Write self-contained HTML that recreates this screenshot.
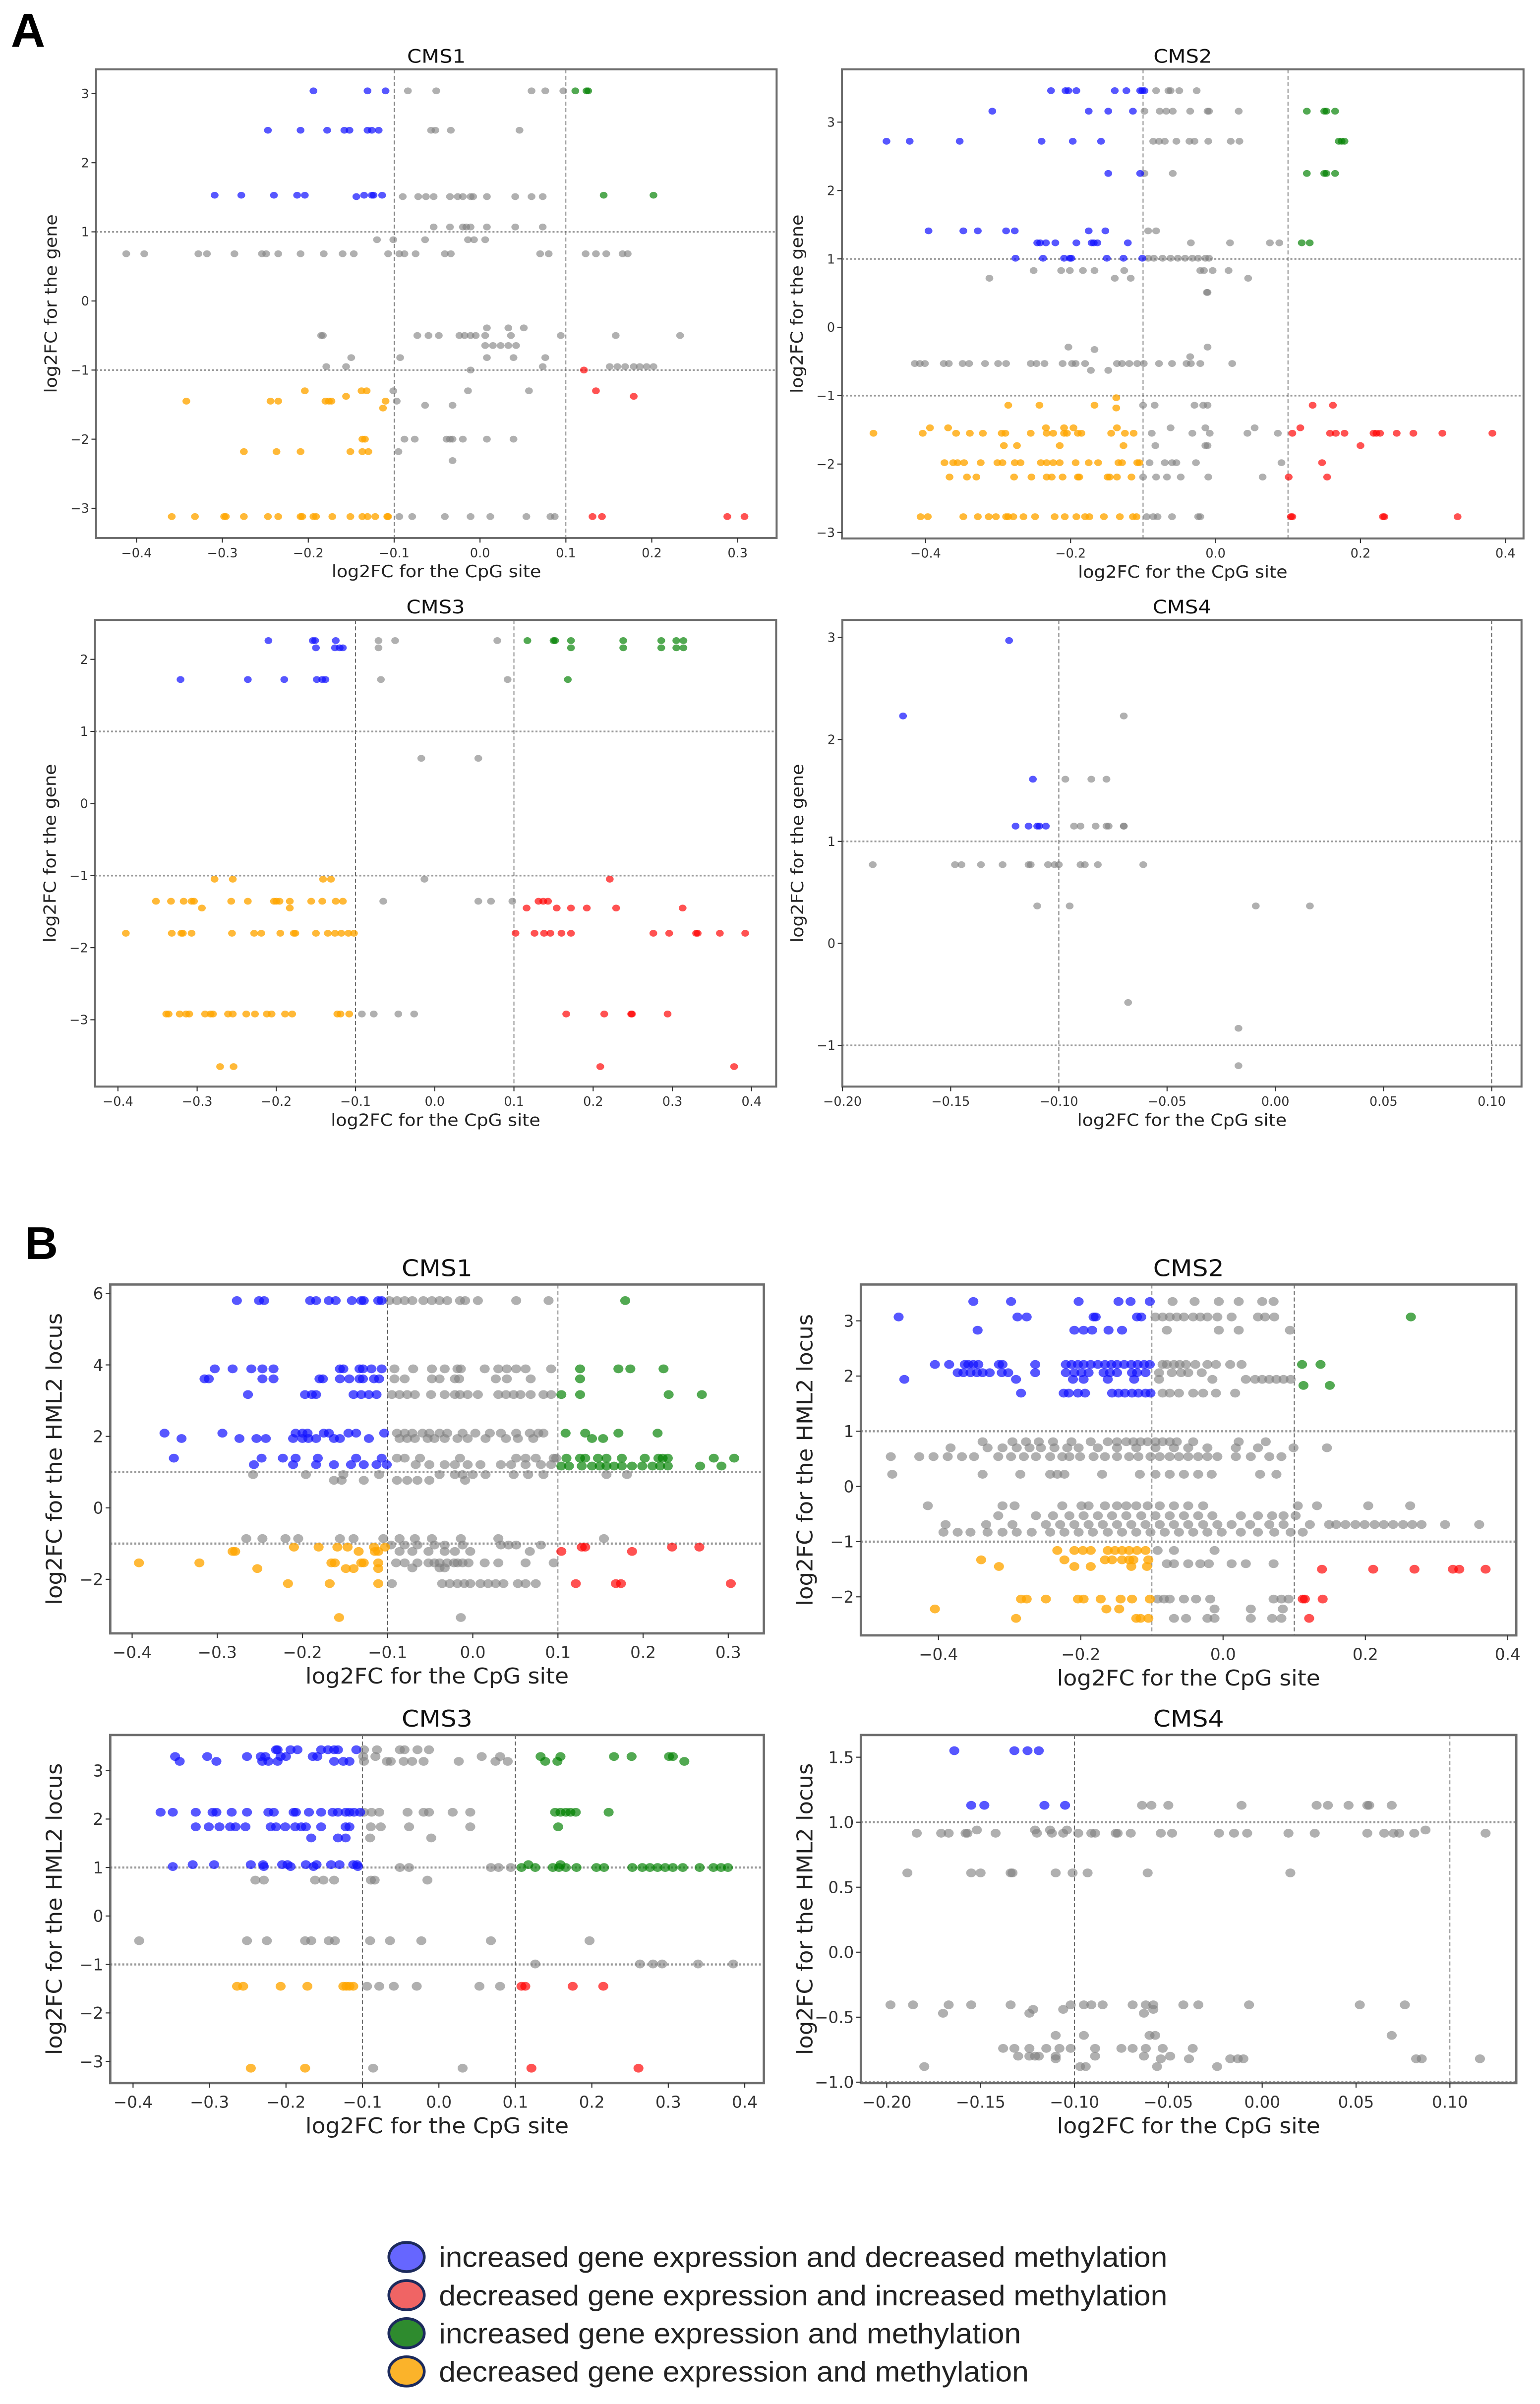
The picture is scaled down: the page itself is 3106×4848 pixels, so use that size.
<!DOCTYPE html>
<html><head><meta charset="utf-8"><title>CpG methylation vs expression scatter panels</title>
<style>
html,body{margin:0;padding:0;background:#fff;}
#fig{display:block;width:3106px;height:4848px;}
</style></head>
<body>
<svg id="fig" xmlns="http://www.w3.org/2000/svg" width="3106" height="4848" viewBox="0 0 1000 1560.85">
<rect x="0" y="0" width="1000" height="1560.85" fill="#ffffff"/>
<text x="7" y="30.5" font-family="Liberation Sans, sans-serif" font-weight="bold" font-size="31" fill="#000">A</text>
<text x="16" y="817.5" font-family="Liberation Sans, sans-serif" font-weight="bold" font-size="30" fill="#000">B</text>
<g>
  <ellipse cx="264" cy="1465.4" rx="11.5" ry="9.5" fill="#6666ff" stroke="#1c2a5c" stroke-width="1.8"/>
  <text x="285" y="1471.9" font-family="Liberation Sans, sans-serif" font-size="18.5" fill="#222" textLength="473" lengthAdjust="spacingAndGlyphs">increased gene expression and decreased methylation</text>
  <ellipse cx="264" cy="1490.2" rx="11.5" ry="9.5" fill="#f06464" stroke="#1c2a5c" stroke-width="1.8"/>
  <text x="285" y="1496.7" font-family="Liberation Sans, sans-serif" font-size="18.5" fill="#222" textLength="473" lengthAdjust="spacingAndGlyphs">decreased gene expression and increased methylation</text>
  <ellipse cx="264" cy="1514.9" rx="11.5" ry="9.5" fill="#2e8b2e" stroke="#1c2a5c" stroke-width="1.8"/>
  <text x="285" y="1521.4" font-family="Liberation Sans, sans-serif" font-size="18.5" fill="#222" textLength="378" lengthAdjust="spacingAndGlyphs">increased gene expression and methylation</text>
  <ellipse cx="264" cy="1539.7" rx="11.5" ry="9.5" fill="#fbb32a" stroke="#1c2a5c" stroke-width="1.8"/>
  <text x="285" y="1546.2" font-family="Liberation Sans, sans-serif" font-size="18.5" fill="#222" textLength="383" lengthAdjust="spacingAndGlyphs">decreased gene expression and methylation</text>
</g>
</svg>
<script>
// ---------------- tick arrays ----------------
const ticksX_a1 = [-0.4,-0.3,-0.2,-0.1,0.0,0.1,0.2,0.3];
const labelsX_a1 = ["−0.4","−0.3","−0.2","−0.1","0.0","0.1","0.2","0.3"];
const ticksX_even = [-0.4,-0.2,0.0,0.2,0.4];
const labelsX_even = ["−0.4","−0.2","0.0","0.2","0.4"];
const ticksX_a3 = [-0.4,-0.3,-0.2,-0.1,0.0,0.1,0.2,0.3,0.4];
const labelsX_a3 = ["−0.4","−0.3","−0.2","−0.1","0.0","0.1","0.2","0.3","0.4"];
const ticksX_small = [-0.20,-0.15,-0.10,-0.05,0.00,0.05,0.10];
const labelsX_small = ["−0.20","−0.15","−0.10","−0.05","0.00","0.05","0.10"];
const ticksY_a1 = [-3,-2,-1,0,1,2,3];
const labelsY_a1 = ["−3","−2","−1","0","1","2","3"];
const ticksY_a3 = [-3,-2,-1,0,1,2];
const labelsY_a3 = ["−3","−2","−1","0","1","2"];
const ticksY_a4 = [-1,0,1,2,3];
const labelsY_a4 = ["−1","0","1","2","3"];
const ticksY_b1 = [-2,0,2,4,6];
const labelsY_b1 = ["−2","0","2","4","6"];
const ticksY_b2 = [-2,-1,0,1,2,3];
const labelsY_b2 = ["−2","−1","0","1","2","3"];
const ticksY_b4 = [-1.0,-0.5,0.0,0.5,1.0,1.5];
const labelsY_b4 = ["−1.0","−0.5","0.0","0.5","1.0","1.5"];

// ---------------- A / CMS1 ----------------
const a1_gray_y = [3.04,2.47,1.51,1.07,0.886,0.683,-0.39,-0.50,-0.645,-0.82,-0.95,-1.0,-1.30,-1.45,-1.51,-2.0,-2.18,-2.31,-3.12];
const a1_gray_x = [
[-0.084,-0.051,0.060,0.076,0.097],
[-0.057,-0.052,-0.034,0.046],
[-0.090,-0.072,-0.063,-0.054,-0.035,-0.026,-0.020,-0.011,-0.008,0.008,0.041,0.060,0.073],
[-0.054,-0.035,-0.020,-0.016,-0.011,0.008,0.041,0.073],
[-0.120,-0.101,-0.064,-0.014,-0.007,0.006],
[-0.412,-0.391,-0.328,-0.318,-0.286,-0.254,-0.249,-0.235,-0.209,-0.182,-0.160,-0.147,-0.107,-0.094,-0.088,-0.075,-0.041,-0.034,0.070,0.080,0.123,0.135,0.147,0.166,0.172],
[0.008,0.033,0.051],
[-0.185,-0.183,-0.073,-0.060,-0.048,-0.024,-0.018,-0.011,-0.005,0.006,0.036,0.094,0.158,0.233],
[0.006,0.015,0.024,0.033,0.042],
[-0.150,-0.093,0.008,0.039,0.076],
[-0.179,-0.156,0.073,0.151,0.160,0.169,0.179,0.186,0.194,0.202],
[-0.011],
[-0.101,-0.014,0.057],
[-0.097],
[-0.064,-0.032],
[-0.088,-0.076,-0.039,-0.035,-0.032,-0.020,0.008,0.039],
[-0.095],
[-0.032],
[-0.094,-0.079,-0.041,-0.011,0.012,0.054,0.082,0.087]];
const a1_blue_y = [3.04,2.47,1.53,1.51];
const a1_blue_x = [[-0.194,-0.131,-0.110],[-0.247,-0.209,-0.178,-0.158,-0.152,-0.131,-0.126,-0.118],[-0.309,-0.278,-0.240,-0.213,-0.204,-0.135,-0.126,-0.124,-0.114],[-0.144]];
const a1_green_y = [3.04,1.53];
const a1_green_x = [[0.111,0.124,0.126],[0.144,0.202]];
const a1_red_y = [-1.0,-1.30,-1.38,-3.12];
const a1_red_x = [[0.121],[0.135],[0.179],[0.131,0.142,0.288,0.308]];
const a1_orange_y = [-1.30,-1.38,-1.45,-1.55,-2.0,-2.18,-3.12];
const a1_orange_x = [[-0.204,-0.138,-0.132],[-0.156],[-0.342,-0.244,-0.235,-0.180,-0.176,-0.173,-0.110],[-0.113],[-0.137,-0.134],[-0.275,-0.237,-0.209,-0.151,-0.137,-0.130],[-0.359,-0.332,-0.298,-0.296,-0.275,-0.247,-0.235,-0.209,-0.207,-0.194,-0.191,-0.172,-0.151,-0.137,-0.131,-0.122,-0.108,-0.107]];

// ---------------- A / CMS2 ----------------
const a2_gray_y = [3.46,3.16,2.72,2.25,1.41,1.235,1.01,0.83,0.717,0.51,-0.29,-0.325,-0.43,-0.53,-0.63,-1.14,-1.47,-1.55,-1.73,-1.98,-2.19,-2.77];
const a2_gray_x = [
[-0.082,-0.065,-0.062,-0.050,-0.026],
[-0.098,-0.077,-0.068,-0.059,-0.035,-0.011,-0.009,0.032],
[-0.086,-0.078,-0.070,-0.054,-0.036,-0.029,-0.010,0.021,0.033],
[-0.098,-0.059],
[-0.093,-0.082],
[-0.034,0.020,0.075,0.088],
[-0.093,-0.085,-0.073,-0.062,-0.052,-0.042,-0.032,-0.024,-0.014,-0.009],
[-0.251,-0.213,-0.201,-0.183,-0.167,-0.126,-0.021,-0.016,-0.004,0.018],
[-0.312,-0.139,-0.117,0.045],
[-0.012,-0.011],
[-0.203,-0.011],
[-0.167],
[-0.035],
[-0.415,-0.408,-0.401,-0.375,-0.368,-0.349,-0.340,-0.318,-0.300,-0.289,-0.255,-0.247,-0.236,-0.211,-0.198,-0.193,-0.180,-0.136,-0.129,-0.119,-0.108,-0.099,-0.078,-0.060,-0.040,-0.034,-0.021,0.023],
[-0.172,-0.148],
[-0.100,-0.084,-0.029,-0.017,-0.011],
[-0.062,-0.014,0.054],
[-0.088,-0.032,-0.008,0.044,0.086],
[-0.083,-0.014,-0.011],
[-0.091,-0.070,-0.060,-0.054,-0.027,0.091],
[-0.100,-0.082,-0.067,-0.048,-0.010,0.065],
[-0.095,-0.086,-0.080,-0.060,-0.024,-0.021]];
const a2_blue_y = [3.46,3.16,2.72,2.25,1.41,1.235,1.01];
const a2_blue_x = [[-0.227,-0.207,-0.203,-0.192,-0.139,-0.123,-0.104,-0.101,-0.098],[-0.308,-0.175,-0.148,-0.114],[-0.454,-0.422,-0.353,-0.240,-0.197,-0.158],[-0.148,-0.104],[-0.396,-0.348,-0.328,-0.289,-0.277,-0.175,-0.152],[-0.246,-0.242,-0.234,-0.221,-0.192,-0.171,-0.168,-0.163,-0.121],[-0.276,-0.238,-0.209,-0.201,-0.199,-0.150,-0.127,-0.101]];
const a2_green_y = [3.16,2.72,2.25,1.235];
const a2_green_x = [[0.126,0.150,0.153,0.165],[0.170,0.174,0.178],[0.126,0.150,0.153,0.165],[0.119,0.130]];
const a2_red_y = [-1.14,-1.47,-1.55,-1.73,-1.98,-2.19,-2.77];
const a2_red_x = [[0.134,0.162],[0.117],[0.106,0.158,0.166,0.178,0.218,0.222,0.227,0.250,0.273,0.313,0.382],[0.200],[0.147],[0.101,0.154],[0.104,0.106,0.231,0.233,0.334]];
const a2_orange_y = [-1.03,-1.14,-1.18,-1.47,-1.55,-1.73,-1.98,-2.19,-2.77];
const a2_orange_x = [[-0.137],[-0.286,-0.243,-0.167],[-0.137],[-0.394,-0.369,-0.234,-0.209,-0.196,-0.136],
[-0.472,-0.404,-0.358,-0.339,-0.321,-0.295,-0.290,-0.255,-0.233,-0.224,-0.209,-0.205,-0.190,-0.185,-0.144,-0.125,-0.113],
[-0.292,-0.274,-0.215,-0.127],
[-0.374,-0.362,-0.356,-0.347,-0.324,-0.301,-0.294,-0.277,-0.269,-0.241,-0.233,-0.224,-0.215,-0.193,-0.175,-0.162,-0.134,-0.129,-0.108,-0.105],
[-0.367,-0.343,-0.330,-0.278,-0.254,-0.233,-0.226,-0.211,-0.190,-0.188,-0.149,-0.146,-0.136,-0.116],
[-0.407,-0.397,-0.348,-0.328,-0.313,-0.303,-0.289,-0.286,-0.279,-0.265,-0.249,-0.222,-0.208,-0.192,-0.180,-0.174,-0.154,-0.132,-0.114,-0.109]];

// ---------------- A / CMS3 ----------------
const a3_gray_y = [2.26,2.16,1.72,0.627,-1.05,-1.356,-2.92];
const a3_gray_x = [[-0.071,-0.050,0.079],[-0.071],[-0.068,0.092],[-0.017,0.055],[-0.013],[-0.065,0.055,0.071,0.098],[-0.092,-0.077,-0.046,-0.026]];
const a3_blue_y = [2.26,2.16,1.72];
const a3_blue_x = [[-0.210,-0.154,-0.151,-0.125],[-0.150,-0.126,-0.120,-0.116],[-0.321,-0.236,-0.190,-0.149,-0.142,-0.138]];
const a3_green_y = [2.26,2.16,1.72];
const a3_green_x = [[0.117,0.150,0.152,0.172,0.238,0.286,0.305,0.314],[0.172,0.238,0.286,0.305,0.314],[0.168]];
const a3_red_y = [-1.05,-1.356,-1.45,-1.80,-2.92,-3.65];
const a3_red_x = [[0.221],[0.131,0.137,0.143],[0.116,0.154,0.172,0.192,0.229,0.313],[0.102,0.126,0.138,0.146,0.160,0.172,0.276,0.296,0.330,0.332,0.360,0.392],[0.166,0.214,0.248,0.249,0.294],[0.209,0.378]];
const a3_orange_y = [-1.05,-1.356,-1.45,-1.80,-2.92,-3.65];
const a3_orange_x = [[-0.278,-0.255,-0.141,-0.131],
[-0.352,-0.333,-0.317,-0.307,-0.304,-0.257,-0.236,-0.203,-0.200,-0.196,-0.183,-0.156,-0.142,-0.125,-0.116],
[-0.294,-0.183],
[-0.390,-0.332,-0.320,-0.318,-0.307,-0.256,-0.228,-0.219,-0.195,-0.178,-0.176,-0.150,-0.135,-0.126,-0.118,-0.109,-0.102],
[-0.339,-0.336,-0.322,-0.314,-0.310,-0.290,-0.283,-0.280,-0.261,-0.255,-0.238,-0.227,-0.212,-0.206,-0.189,-0.180,-0.123,-0.119,-0.108],
[-0.271,-0.254]];

// ---------------- A / CMS4 ----------------
const a4_gray_y = [2.23,1.61,1.15,0.772,0.367,-0.58,-0.833,-1.2];
const a4_gray_x = [[-0.070],[-0.097,-0.085,-0.078],[-0.093,-0.090,-0.083,-0.078,-0.077,-0.070,-0.070],[-0.186,-0.148,-0.145,-0.136,-0.126,-0.114,-0.113,-0.105,-0.102,-0.100,-0.090,-0.088,-0.082,-0.061],[-0.110,-0.095,-0.009,0.016],[-0.068],[-0.017],[-0.017]];
const a4_blue_y = [2.97,2.23,1.61,1.15];
const a4_blue_x = [[-0.123],[-0.172],[-0.112],[-0.120,-0.114,-0.110,-0.109,-0.106]];

// ---------------- B / CMS1 ----------------
const b1_gray_y = [5.8,3.89,3.61,3.17,2.09,1.94,1.39,1.21,0.93,0.77,-0.86,-1.04,-1.22,-1.54,-1.68,-2.12,-3.07];
const b1_gray_x = [
[-0.098,-0.089,-0.080,-0.071,-0.058,-0.048,-0.039,-0.030,-0.015,-0.009,0.006,0.051,0.089],
[-0.092,-0.070,-0.048,-0.033,-0.018,-0.014,0.014,0.030,0.040,0.051,0.062,0.092],
[-0.092,-0.080,-0.048,-0.039,-0.021,-0.016,0.027,0.040,0.068],
[-0.095,-0.086,-0.077,-0.068,-0.049,-0.033,-0.021,-0.015,-0.006,0.006,0.030,0.039,0.048,0.056,0.068,0.083,0.092],
[-0.089,-0.080,-0.071,-0.059,-0.051,-0.039,-0.030,-0.012,0.003,0.020,0.033,0.051,0.067,0.077,0.083],
[-0.086,-0.077,-0.068,-0.053,-0.045,-0.033,-0.018,-0.006,0.015,0.039,0.053,0.071],
[-0.089,-0.080,-0.062,-0.015,0.051,0.062,0.074,0.095,0.098],
[-0.067,-0.051,-0.033,-0.021,-0.006,0.009,0.033,0.045,0.062,0.080,0.092],
[-0.258,-0.196,-0.152,-0.110,-0.039,-0.021,-0.012,0.0,0.015,0.048,0.065,0.083,0.157,0.181],
[-0.163,-0.154,-0.128,-0.089,-0.077,-0.065,-0.051,-0.009],
[-0.266,-0.247,-0.220,-0.205,-0.156,-0.140,-0.105,-0.086,-0.068,-0.048,-0.014,0.030,0.154],
[-0.096,-0.080,-0.065,-0.045,-0.033,-0.012,0.033,0.042,0.051,0.080],
[-0.086,-0.071,-0.052,-0.033,-0.021,-0.003,0.067],
[-0.090,-0.080,-0.065,-0.052,-0.045,-0.039,-0.030,-0.022,-0.018,-0.012,-0.005,0.014,0.030,0.062,0.095],
[-0.071,-0.039,-0.033],
[-0.095,-0.036,-0.027,-0.018,-0.010,-0.003,0.009,0.018,0.027,0.036,0.053,0.062,0.074],
[-0.014]];
const b1_blue_y = [5.8,3.89,3.61,3.17,2.09,1.94,1.39,1.21];
const b1_blue_x = [
[-0.277,-0.251,-0.245,-0.191,-0.184,-0.169,-0.161,-0.142,-0.131,-0.128,-0.111,-0.107],
[-0.303,-0.282,-0.260,-0.247,-0.234,-0.156,-0.152,-0.133,-0.129,-0.119,-0.107],
[-0.315,-0.310,-0.247,-0.234,-0.180,-0.176,-0.156,-0.145,-0.133,-0.129,-0.116,-0.110],
[-0.264,-0.197,-0.189,-0.184,-0.140,-0.131,-0.122,-0.113],
[-0.362,-0.294,-0.208,-0.200,-0.194,-0.175,-0.169,-0.146,-0.137,-0.104],
[-0.342,-0.274,-0.254,-0.243,-0.211,-0.200,-0.193,-0.184,-0.163,-0.156,-0.122],
[-0.351,-0.248,-0.223,-0.208,-0.182,-0.137,-0.107],
[-0.257,-0.211,-0.184,-0.163,-0.143,-0.128,-0.113,-0.101]];
const b1_green_y = [5.8,3.89,3.61,3.17,2.09,1.94,1.39,1.17];
const b1_green_x = [[0.179],[0.126,0.171,0.185,0.224],[0.126],[0.104,0.126,0.230,0.269],[0.109,0.132,0.171,0.217],[0.140,0.153],
[0.110,0.126,0.132,0.147,0.157,0.175,0.202,0.218,0.223,0.229,0.283,0.307],
[0.104,0.113,0.128,0.140,0.149,0.157,0.166,0.175,0.187,0.199,0.211,0.220,0.229,0.267,0.292]];
const b1_red_y = [-1.10,-1.22,-2.12];
const b1_red_x = [[0.128,0.132,0.234,0.266],[0.104,0.187],[0.121,0.168,0.174,0.303]];
const b1_orange_y = [-1.10,-1.22,-1.54,-1.70,-2.12,-3.07];
const b1_orange_x = [[-0.210,-0.181,-0.159,-0.147,-0.116,-0.103],[-0.282,-0.279,-0.134,-0.115,-0.111],[-0.392,-0.321,-0.166,-0.162,-0.131,-0.128,-0.111],[-0.253,-0.149,-0.140,-0.111],[-0.217,-0.168,-0.111],[-0.157]];

// ---------------- B / CMS2 ----------------
const b2_gray_y = [3.35,3.07,2.83,2.21,2.06,1.94,1.69,0.81,0.70,0.54,0.22,-0.35,-0.53,-0.69,-0.83,-1.16,-1.40,-2.04,-2.22,-2.39];
const b2_gray_x = [
[-0.071,-0.040,-0.006,0.022,0.055,0.071],
[-0.095,-0.085,-0.075,-0.065,-0.055,-0.042,-0.032,-0.022,-0.008,0.012,0.049,0.059,0.072],
[-0.079,-0.006,0.022,0.094],
[-0.085,-0.079,-0.069,-0.061,-0.052,-0.039,-0.022,-0.010,0.010,0.026],
[-0.090,-0.072,-0.059,-0.049,-0.030],
[-0.090,-0.015,0.032,0.045,0.055,0.065,0.075,0.085,0.095],
[-0.085,-0.075,-0.062,-0.042,-0.028,-0.010,0.017],
[-0.338,-0.296,-0.277,-0.259,-0.239,-0.213,-0.186,-0.162,-0.149,-0.136,-0.126,-0.116,-0.106,-0.095,-0.085,-0.075,-0.065,-0.042,0.022,0.060],
[-0.383,-0.331,-0.310,-0.290,-0.272,-0.256,-0.237,-0.219,-0.203,-0.176,-0.149,-0.122,-0.095,-0.069,-0.049,-0.022,0.018,0.049,0.099,0.146],
[-0.467,-0.427,-0.407,-0.387,-0.367,-0.350,-0.316,-0.298,-0.280,-0.263,-0.243,-0.226,-0.216,-0.201,-0.182,-0.166,-0.149,-0.132,-0.119,-0.102,-0.089,-0.075,-0.062,-0.049,-0.035,-0.022,-0.008,0.018,0.039,0.065,0.082],
[-0.465,-0.338,-0.285,-0.243,-0.233,-0.223,-0.170,-0.117,-0.095,-0.075,-0.055,-0.035,-0.016,0.052,0.075],
[-0.415,-0.310,-0.293,-0.226,-0.199,-0.189,-0.166,-0.149,-0.136,-0.122,-0.106,-0.089,-0.069,-0.049,-0.028,0.105,0.132,0.204,0.263],
[-0.316,-0.263,-0.239,-0.216,-0.196,-0.176,-0.156,-0.136,-0.115,-0.095,-0.075,-0.055,-0.035,-0.015,0.025,0.049,0.069,0.085,0.102],
[-0.390,-0.333,-0.296,-0.249,-0.229,-0.209,-0.189,-0.169,-0.149,-0.129,-0.109,-0.089,-0.069,-0.049,-0.028,-0.008,0.012,0.038,0.065,0.085,0.122,0.149,0.159,0.172,0.186,0.199,0.213,0.226,0.239,0.253,0.266,0.279,0.312,0.360],
[-0.393,-0.373,-0.355,-0.331,-0.310,-0.290,-0.269,-0.243,-0.223,-0.203,-0.183,-0.162,-0.142,-0.122,-0.102,-0.082,-0.062,-0.042,-0.022,-0.002,0.025,0.049,0.072,0.095,0.112],
[-0.092,-0.069,-0.012],
[-0.079,-0.069,-0.049,-0.032,-0.020,0.012,0.032,0.071],
[-0.092,-0.083,-0.075,-0.055,-0.038,-0.018,0.071,0.082,0.092],
[-0.012,0.039,0.084],
[-0.069,-0.052,-0.022,-0.012,0.039,0.069,0.082]];
const b2_blue_y = [3.35,3.07,2.83,2.21,2.06,1.94,1.69];
const b2_blue_x = [
[-0.351,-0.298,-0.203,-0.147,-0.130,-0.103],
[-0.456,-0.289,-0.276,-0.182,-0.179,-0.121,-0.115],
[-0.345,-0.209,-0.196,-0.184,-0.161,-0.142],
[-0.405,-0.385,-0.363,-0.358,-0.351,-0.344,-0.315,-0.310,-0.264,-0.221,-0.213,-0.204,-0.196,-0.186,-0.176,-0.166,-0.157,-0.149,-0.139,-0.129,-0.120,-0.111,-0.103],
[-0.373,-0.365,-0.355,-0.346,-0.338,-0.328,-0.311,-0.302,-0.264,-0.221,-0.209,-0.199,-0.189,-0.168,-0.159,-0.149,-0.128,-0.121,-0.109],
[-0.448,-0.291,-0.211,-0.196,-0.162,-0.125],
[-0.284,-0.224,-0.217,-0.204,-0.194,-0.156,-0.147,-0.138,-0.128,-0.119,-0.109,-0.102]];
const b2_green_y = [3.07,2.21,1.83];
const b2_green_x = [[0.264],[0.111,0.137],[0.113,0.150]];
const b2_red_y = [-1.50,-2.04,-2.39];
const b2_red_x = [[0.139,0.211,0.269,0.323,0.332,0.369],[0.112,0.115,0.140],[0.121]];
const b2_orange_y = [-1.16,-1.33,-1.45,-2.04,-2.22,-2.39];
const b2_orange_x = [[-0.233,-0.209,-0.197,-0.186,-0.162,-0.152,-0.142,-0.132,-0.121,-0.109],[-0.340,-0.223,-0.166,-0.156,-0.142,-0.132,-0.126,-0.105],[-0.315,-0.209,-0.186,-0.129,-0.107],[-0.284,-0.276,-0.249,-0.204,-0.196,-0.172,-0.144,-0.128,-0.103],[-0.405,-0.164,-0.146],[-0.291,-0.122,-0.116,-0.105]];

// ---------------- B / CMS3 ----------------
const b3_gray_y = [3.43,3.29,3.19,2.14,1.84,1.61,1.0,0.74,-0.51,-0.99,-1.45,-3.14];
const b3_gray_x = [[-0.098,-0.081,-0.051,-0.045,-0.028,-0.013],[-0.099,-0.083,0.056,0.080],[-0.098,-0.068,-0.063,-0.046,-0.035,-0.020,0.026,0.074,0.090],[-0.098,-0.088,-0.078,-0.041,-0.020,-0.013,0.018,0.041],[-0.089,-0.076,-0.039,0.041],[-0.090,-0.010],[-0.051,-0.039,0.068,0.078,0.094],[-0.240,-0.229,-0.162,-0.151,-0.137,-0.089,-0.084,-0.015],[-0.392,-0.251,-0.225,-0.175,-0.167,-0.144,-0.136,-0.090,-0.064,-0.023,0.068,0.197],[0.126,0.263,0.280,0.292,0.339,0.385],[-0.094,-0.078,-0.059,-0.029,0.053,0.080],[-0.086,0.031]];
const b3_blue_y = [3.43,3.29,3.19,2.14,1.84,1.61,1.06,1.02];
const b3_blue_x = [
[-0.213,-0.211,-0.194,-0.185,-0.154,-0.145,-0.137,-0.132,-0.108],
[-0.345,-0.303,-0.251,-0.233,-0.227,-0.207,-0.200,-0.165,-0.159],
[-0.339,-0.291,-0.231,-0.223,-0.211,-0.137,-0.125,-0.117],
[-0.364,-0.348,-0.318,-0.296,-0.291,-0.271,-0.251,-0.223,-0.216,-0.190,-0.187,-0.170,-0.154,-0.139,-0.132,-0.122,-0.117,-0.111,-0.103],
[-0.318,-0.301,-0.287,-0.273,-0.266,-0.253,-0.220,-0.213,-0.201,-0.188,-0.180,-0.174,-0.154,-0.122,-0.117],
[-0.167,-0.132,-0.122],
[-0.322,-0.294,-0.246,-0.230,-0.205,-0.198,-0.174,-0.160,-0.141,-0.130,-0.112,-0.107],
[-0.348,-0.229,-0.194,-0.164,-0.106]];
const b3_green_y = [3.29,3.19,2.14,1.84,1.06,1.0];
const b3_green_x = [[0.133,0.159,0.229,0.252,0.301,0.306],[0.139,0.155,0.321],[0.152,0.159,0.166,0.172,0.179,0.222],[0.156],[0.117,0.159],
[0.108,0.126,0.149,0.157,0.166,0.180,0.206,0.216,0.253,0.266,0.276,0.286,0.296,0.306,0.319,0.341,0.359,0.369,0.378]];
const b3_red_y = [-1.45,-3.14];
const b3_red_x = [[0.108,0.113,0.175,0.215],[0.121,0.261]];
const b3_orange_y = [-1.45,-3.14];
const b3_orange_x = [[-0.264,-0.256,-0.207,-0.172,-0.125,-0.121,-0.117,-0.112],[-0.246,-0.175]];

// ---------------- B / CMS4 ----------------
const b4_gray_y = [1.13,0.915,0.94,0.61,-0.405,-0.44,-0.47,-0.64,-0.74,-0.80,-0.82,-0.88];
const b4_gray_x = [
[-0.064,-0.059,-0.050,-0.011,0.029,0.035,0.046,0.056,0.057,0.069],
[-0.184,-0.171,-0.167,-0.158,-0.157,-0.142,-0.120,-0.112,-0.106,-0.098,-0.091,-0.089,-0.078,-0.077,-0.070,-0.054,-0.048,-0.023,-0.015,-0.008,0.014,0.028,0.056,0.065,0.070,0.073,0.081,0.119],
[-0.152,-0.121,-0.113,-0.104,0.087],
[-0.189,-0.155,-0.150,-0.134,-0.133,-0.110,-0.101,-0.093,-0.061,0.015],
[-0.198,-0.186,-0.167,-0.155,-0.134,-0.102,-0.095,-0.091,-0.085,-0.069,-0.062,-0.058,-0.042,-0.034,-0.007,0.052,0.076],
[-0.122,-0.106,-0.058],
[-0.170,-0.124,-0.063],
[-0.110,-0.095,-0.060,-0.057,0.069],
[-0.138,-0.132,-0.124,-0.115,-0.108,-0.102,-0.089,-0.075,-0.069,-0.062,-0.053,-0.037],
[-0.130,-0.124,-0.121,-0.119,-0.110,-0.089,-0.063,-0.049],
[-0.110,-0.054,-0.039,-0.017,-0.013,-0.010,0.082,0.085,0.116],
[-0.180,-0.097,-0.094,-0.056,-0.024]];
const b4_blue_y = [1.55,1.13];
const b4_blue_x = [[-0.164,-0.132,-0.125,-0.119],[-0.155,-0.148,-0.116,-0.105]];

// ---------------- drawing ----------------
const NS = 'http://www.w3.org/2000/svg';
const svg = document.getElementById('fig');
function mk(tag, attrs, parent){
  const e = document.createElementNS(NS, tag);
  for (const k in attrs) e.setAttribute(k, attrs[k]);
  parent.appendChild(e);
  return e;
}
const COLORS = {gray:['#808080',0.62], blue:['#1010ff',0.7], red:['#ff0000',0.68], green:['#008000',0.68], orange:['#ffa500',0.78]};
const TICKFONT = 'DejaVu Sans, Liberation Sans, sans-serif';

function drawPanel(p){
  const g = mk('g', {}, svg);
  
  
  const sx = v => p.x0 + v * p.xs;
  const sy = v => p.y0 - v * p.ys;
  const clipId = p.name + '-clip';
  const cp = mk('clipPath', {id: clipId}, g);
  mk('rect', {x:p.L, y:p.T, width:p.R-p.L, height:p.B-p.T}, cp);
  // reference lines
  const ref = mk('g', {'clip-path':'url(#'+clipId+')'}, g);
  
  
  for (const v of [-1, 1]) {
    const ln = mk('line', {x1:p.L, x2:p.R, y1:sy(v), y2:sy(v), stroke:'#9a9a9a', 'stroke-width':p.big?1.4:1.1, 'stroke-dasharray':'1.3,1.3'}, ref);
    
    
  }
  for (const v of [-0.1, 0.1]) {
    const ln = mk('line', {x1:sx(v), x2:sx(v), y1:p.T, y2:p.B, stroke:'#555', 'stroke-width':0.55, 'stroke-dasharray':'2.6,1.6'}, ref);
    
    
  }
  // points
  const pts = mk('g', {'clip-path':'url(#'+clipId+')'}, g);
  
  
  for (const s of p.series) {
    const col = COLORS[s.c];
    for (let i = 0; i < s.y.length; i++) {
      for (const xv of s.x[i]) {
        const c = mk('ellipse', {cx:sx(xv), cy:sy(s.y[i]), rx:p.r*1.05, ry:p.r*0.92, fill:col[0], 'fill-opacity':col[1]}, pts);
        
        
      }
    }
  }
  // frame
  const fr = mk('rect', {x:p.L, y:p.T, width:p.R-p.L, height:p.B-p.T, fill:'none', stroke:'#6e6e6e', 'stroke-width':p.big?1.5:1.3}, g);
  
  
  // x ticks
  const fs = p.big ? 10.5 : 8.2;
  for (let i = 0; i < p.xt.length; i++) {
    const x = sx(p.xt[i]);
    const tk = mk('line', {x1:x, x2:x, y1:p.B, y2:p.B+3, stroke:'#333', 'stroke-width':0.7}, g);
    
    
    const t = mk('text', {x:x, y:p.B + (p.big?16:12.5), 'text-anchor':'middle', 'font-family':TICKFONT, 'font-size':fs, fill:'#333'}, g);
    t.textContent = p.xl[i];
    
    
  }
  for (let i = 0; i < p.yt.length; i++) {
    const y = sy(p.yt[i]);
    const tk = mk('line', {x1:p.L-3, x2:p.L, y1:y, y2:y, stroke:'#333', 'stroke-width':0.7}, g);
    
    
    const t = mk('text', {x:p.L-4.5, y:y + fs*0.36, 'text-anchor':'end', 'font-family':TICKFONT, 'font-size':fs, fill:'#333'}, g);
    t.textContent = p.yl[i];
    
    
  }
  const cx = (p.L + p.R) / 2, cy = (p.T + p.B) / 2;
  const title = mk('text', {x:cx, y:p.T - (p.big?5.5:4.3), 'text-anchor':'middle', 'font-family':TICKFONT, 'font-size':p.big?15:12, fill:'#111', textLength:p.big?46:38, lengthAdjust:'spacingAndGlyphs'}, g);
  title.textContent = p.title;
  
  
  const xl = mk('text', {x:cx, y:p.B + (p.big?32.5:25.5), 'text-anchor':'middle', 'font-family':TICKFONT, 'font-size':p.big?14:11, fill:'#222', textLength:p.big?171:136, lengthAdjust:'spacingAndGlyphs'}, g);
  xl.textContent = 'log2FC for the CpG site';
  
  
  const bx = p.L - (p.big ? 31.5 : 25.5);
  const yl = mk('text', {x:0, y:0, transform:'translate(' + bx + ',' + cy + ') rotate(-90)', 'text-anchor':'middle', 'font-family':TICKFONT, 'font-size':p.big?14:11, fill:'#222', textLength:p.big?189.5:116, lengthAdjust:'spacingAndGlyphs'}, g);
  yl.textContent = p.ylab;
  
  
}

const GENE = 'log2FC for the gene', HML = 'log2FC for the HML2 locus';
drawPanel({name:'a-cms1', title:'CMS1', ylab:GENE, L:62.4, R:504.3, T:45, B:349.3, x0:311.7, xs:557.6, y0:195.4, ys:44.87, r:2.4,
  xt:ticksX_a1, xl:labelsX_a1, yt:ticksY_a1, yl:labelsY_a1,
  series:[{c:'gray',x:a1_gray_x,y:a1_gray_y},{c:'blue',x:a1_blue_x,y:a1_blue_y},{c:'green',x:a1_green_x,y:a1_green_y},{c:'red',x:a1_red_x,y:a1_red_y},{c:'orange',x:a1_orange_x,y:a1_orange_y}]});
drawPanel({name:'a-cms2', title:'CMS2', ylab:GENE, L:546.7, R:989.3, T:45, B:349.6, x0:789.3, xs:470.6, y0:212.5, ys:44.4, r:2.4,
  xt:ticksX_even, xl:labelsX_even, yt:ticksY_a1, yl:labelsY_a1,
  series:[{c:'gray',x:a2_gray_x,y:a2_gray_y},{c:'blue',x:a2_blue_x,y:a2_blue_y},{c:'green',x:a2_green_x,y:a2_green_y},{c:'red',x:a2_red_x,y:a2_red_y},{c:'orange',x:a2_orange_x,y:a2_orange_y}]});
drawPanel({name:'a-cms3', title:'CMS3', ylab:GENE, L:61.7, R:504, T:402.5, B:705.5, x0:282.3, xs:514.3, y0:521.7, ys:46.8, r:2.4,
  xt:ticksX_a3, xl:labelsX_a3, yt:ticksY_a3, yl:labelsY_a3,
  series:[{c:'gray',x:a3_gray_x,y:a3_gray_y},{c:'blue',x:a3_blue_x,y:a3_blue_y},{c:'green',x:a3_green_x,y:a3_green_y},{c:'red',x:a3_red_x,y:a3_red_y},{c:'orange',x:a3_orange_x,y:a3_orange_y}]});
drawPanel({name:'a-cms4', title:'CMS4', ylab:GENE, L:547, R:988, T:402.5, B:705.5, x0:828.1, xs:1405.3, y0:612.5, ys:66.2, r:2.4,
  xt:ticksX_small, xl:labelsX_small, yt:ticksY_a4, yl:labelsY_a4,
  series:[{c:'gray',x:a4_gray_x,y:a4_gray_y},{c:'blue',x:a4_blue_x,y:a4_blue_y}]});
drawPanel({name:'b-cms1', title:'CMS1', ylab:HML, big:true, L:71.6, R:496, T:834, B:1060.5, x0:307, xs:553, y0:979, ys:23.2, r:3.1,
  xt:ticksX_a1, xl:labelsX_a1, yt:ticksY_b1, yl:labelsY_b1,
  series:[{c:'gray',x:b1_gray_x,y:b1_gray_y},{c:'blue',x:b1_blue_x,y:b1_blue_y},{c:'green',x:b1_green_x,y:b1_green_y},{c:'red',x:b1_red_x,y:b1_red_y},{c:'orange',x:b1_orange_x,y:b1_orange_y}]});
drawPanel({name:'b-cms2', title:'CMS2', ylab:HML, big:true, L:559, R:984.6, T:834, B:1061.8, x0:794.2, xs:462, y0:965.1, ys:35.84, r:3.1,
  xt:ticksX_even, xl:labelsX_even, yt:ticksY_b2, yl:labelsY_b2,
  series:[{c:'gray',x:b2_gray_x,y:b2_gray_y},{c:'blue',x:b2_blue_x,y:b2_blue_y},{c:'green',x:b2_green_x,y:b2_green_y},{c:'red',x:b2_red_x,y:b2_red_y},{c:'orange',x:b2_orange_x,y:b2_orange_y}]});
drawPanel({name:'b-cms3', title:'CMS3', ylab:HML, big:true, L:71.6, R:496, T:1126.5, B:1352.5, x0:285, xs:496.5, y0:1244, ys:31.47, r:3.1,
  xt:ticksX_a3, xl:labelsX_a3, yt:ticksY_a1, yl:labelsY_a1,
  series:[{c:'gray',x:b3_gray_x,y:b3_gray_y},{c:'blue',x:b3_blue_x,y:b3_blue_y},{c:'green',x:b3_green_x,y:b3_green_y},{c:'red',x:b3_red_x,y:b3_red_y},{c:'orange',x:b3_orange_x,y:b3_orange_y}]});
drawPanel({name:'b-cms4', title:'CMS4', ylab:HML, big:true, L:559, R:984.6, T:1126.5, B:1352.5, x0:819.6, xs:1219, y0:1267.5, ys:84.4, r:3.1,
  xt:ticksX_small, xl:labelsX_small, yt:ticksY_b4, yl:labelsY_b4,
  series:[{c:'gray',x:b4_gray_x,y:b4_gray_y},{c:'blue',x:b4_blue_x,y:b4_blue_y}]});
</script>
</body></html>
